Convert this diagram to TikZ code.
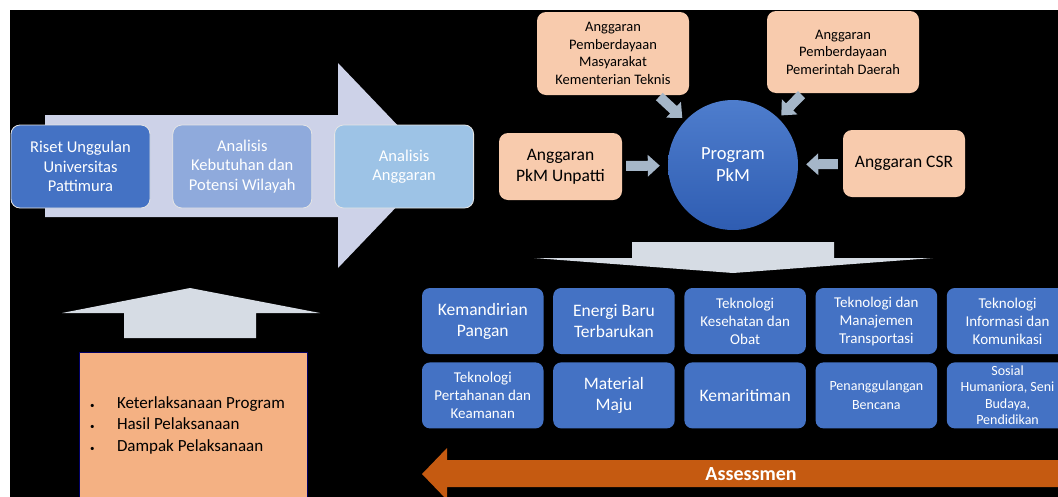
\documentclass[tikz,border=0pt]{standalone}
\usepackage{fontspec}
\setmainfont{Carlito}
\usepackage{xcolor}
\usetikzlibrary{positioning,arrows.meta}
\definecolor{darkblue}{HTML}{4472C4}
\definecolor{midblue}{HTML}{8FAADC}
\definecolor{lightblue}{HTML}{9DC3E6}
\definecolor{peach}{HTML}{F8CBAD}
\definecolor{deeppeach}{HTML}{F4B183}
\definecolor{lavender}{HTML}{CDD2E8}
\definecolor{greyarrow}{HTML}{D6DCE4}
\definecolor{feedgrey}{HTML}{A5B6C8}
\definecolor{rust}{HTML}{C55A11}
\definecolor{pkmtop}{HTML}{4E7DCD}
\definecolor{pkmbottom}{HTML}{2F5DB2}

\begin{document}
\begin{tikzpicture}[x=1pt, y=-1pt,
	rowbox/.style={rectangle, rounded corners=9pt, draw=white!80!gray, line width=0.8pt,
	text=white, align=center, minimum width=139pt, minimum height=83pt, inner sep=2pt,
	font=\fontsize{16.5}{19.5}\selectfont},
	fundbox/.style={rectangle, rounded corners=9pt, fill=peach, text=black, align=center,
	inner sep=2pt, font=\fontsize{14.5}{17.5}\selectfont},
	areabox/.style={rectangle, rounded corners=8pt, fill=darkblue, text=white, align=center,
	minimum width=121.5pt, minimum height=66pt, inner sep=1pt,
	font=\fontsize{15}{18}\selectfont},
	bigtext/.style={font=\fontsize{17.5}{21}\selectfont},
	feed/.style={draw=feedgrey, line width=10pt, -{Triangle[length=12pt,width=21pt]}},
	node distance=9.3pt
	]
	\useasboundingbox (0,0) rectangle (1058,496);
	\clip (0,0) rectangle (1058,496);
	\fill[white] (0,0) rectangle (1058,496);
	\fill[black] (10,10) rectangle (1060,500);
	
	\fill[lavender] (45,115) -- (338,115) -- (338,63) -- (436,165.5) -- (338,268)
	-- (338,217) -- (45,217) -- cycle;
	\node[rowbox, fill=darkblue] (riset) at (80.5,166.5) {Riset Unggulan\\Universitas\\Pattimura};
	\node[rowbox, fill=midblue, right=22pt of riset] (kebutuhan) {Analisis\\Kebutuhan dan\\Potensi Wilayah};
	\node[rowbox, fill=lightblue, right=22pt of kebutuhan] (analisis) {Analisis\\Anggaran};
	
	\node[fundbox, minimum width=152pt, minimum height=83pt] (teknis) at (613,53.5)
	{Anggaran\\Pemberdayaan\\Masyarakat\\Kementerian Teknis};
	\node[fundbox, minimum width=152pt, minimum height=82pt] (daerah) at (843,52)
	{Anggaran\\Pemberdayaan\\Pemerintah Daerah};
	\node[fundbox, bigtext, minimum width=123pt, minimum height=67pt] (unpatti) at (560.5,166.5)
	{Anggaran\\PkM Unpatti};
	\node[fundbox, bigtext, minimum width=122pt, minimum height=67pt] (csr) at (904,163.5)
	{Anggaran CSR};
	\node[circle, minimum size=130pt, top color=pkmtop, bottom color=pkmbottom, text=white,
	align=center, font=\fontsize{18.5}{22}\selectfont] (pkm) at (733,165) {Program\\PkM};
	
	\draw[feed, shorten <=4pt, shorten >=8pt] (unpatti) -- (pkm);
	\draw[feed, shorten <=5pt, shorten >=8pt] (csr) -- (pkm);
	\draw[feed, shorten <=2pt, shorten >=4pt] (teknis) -- (pkm);
	\draw[feed, shorten <=2pt, shorten >=4pt] (daerah) -- (pkm);
	
	\fill[greyarrow] (632,242) -- (834,242) -- (834,258) -- (933,258) -- (733,273)
	-- (534,258) -- (632,258) -- cycle;
	
	\node[areabox, bigtext] (pangan) at (482.75,321) {Kemandirian\\Pangan};
	\node[areabox, bigtext, right=of pangan] (energi) {Energi Baru\\Terbarukan};
	\node[areabox, right=of energi] (kesehatan) {Teknologi\\Kesehatan dan\\Obat};
	\node[areabox, right=of kesehatan] (transportasi) {Teknologi dan\\Manajemen\\Transportasi};
	\node[areabox, right=of transportasi] (informasi) {Teknologi\\Informasi dan\\Komunikasi};
	\node[areabox, below=8pt of pangan] (pertahanan) {Teknologi\\Pertahanan dan\\Keamanan};
	\node[areabox, bigtext, below=8pt of energi] (material) {Material\\Maju};
	\node[areabox, bigtext, below=8pt of kesehatan] (maritim) {Kemaritiman};
	\node[areabox, below=8pt of transportasi, font=\fontsize{14}{19}\selectfont] (bencana)
	{Penanggulangan\\Bencana};
	\node[areabox, below=8pt of informasi, font=\fontsize{14}{16.5}\selectfont] (sosial)
	{Sosial\\Humaniora, Seni\\Budaya,\\Pendidikan};
	
	\fill[greyarrow] (124,338) -- (124,313) -- (62,313) -- (190,288) -- (320,313)
	-- (256,313) -- (256,338) -- cycle;
	\node[rectangle, draw=black!60!blue, line width=1pt, fill=deeppeach, minimum width=228pt,
	minimum height=146pt, inner xsep=11pt, text width=206pt, align=flush left,
	font=\fontsize{17}{21.5}\selectfont] (indikator) at (193,425)
	{\makebox[27pt][l]{\small\textbullet}Keterlaksanaan Program\\
		\makebox[27pt][l]{\small\textbullet}Hasil Pelaksanaan\\
		\makebox[27pt][l]{\small\textbullet}Dampak Pelaksanaan};
	
	\fill[rust] (1060,460) -- (447,460) -- (447,448) -- (422,474) -- (447,500) -- (447,487)
	-- (1060,487) -- cycle;
	\node[text=white, font=\fontsize{20}{24}\selectfont\bfseries] (assessmen) at (751,474) {Assessmen};
\end{tikzpicture}
\end{document}
